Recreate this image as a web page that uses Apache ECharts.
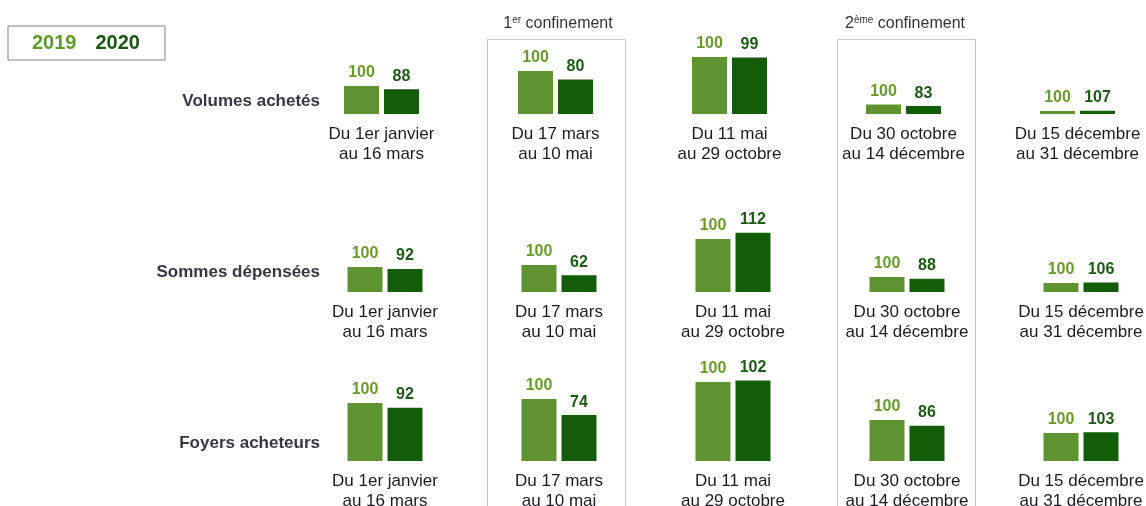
<!DOCTYPE html>
<html>
<head>
<meta charset="utf-8">
<script src="https://cdn.jsdelivr.net/npm/echarts@6/dist/echarts.min.js"></script>
<style>
  html, body { margin: 0; padding: 0; background: #fff; }
  #chart { width: 1146px; height: 506px; }
</style>
</head>
<body>
<div id="chart"></div>
<script>
// périodes (catégories)
var periodes = ['Du 1er janvier\nau 16 mars', 'Du 17 mars\nau 10 mai', 'Du 11 mai\nau 29 octobre', 'Du 30 octobre\nau 14 décembre', 'Du 15 décembre\nau 31 décembre']
var indicateurs = ['Volumes achetés', 'Sommes dépensées', 'Foyers acheteurs']

// indices 2020 (base 100 = 2019)
var indice2019 = [100, 100, 100, 100, 100]
var volumes2020 = [88, 80, 99, 83, 107]
var sommes2020 = [92, 62, 112, 88, 106]
var foyers2020 = [92, 74, 102, 86, 103]

// poids relatif de chaque période en 2019 (hauteur de la barre 2019)
var volumesPoids2019 = [28, 43, 57, 9.5, 3]
var sommesPoids2019 = [25, 27, 53, 15, 9]
var foyersPoids2019 = [58, 62, 79, 41, 28]

var indices2020 = [volumes2020, sommes2020, foyers2020]
var poids2019 = [volumesPoids2019, sommesPoids2019, foyersPoids2019]

var font = 'Liberation Sans, Arial, sans-serif'
var vert2019 = '#5f9230'
var vert2020 = '#145d08'

// mise en page
var baselines = [114, 292, 461]
var lefts = [294.5, 298, 298]
var labelY = [101, 272, 443]

var grids = []
var xAxes = []
var yAxes = []
var series = []

indicateurs.forEach(function (nom, r) {
  grids.push({ left: lefts[r], width: 870, top: baselines[r] - 100, height: 100, outerBoundsMode: 'none', containLabel: false })
  xAxes.push({
    type: 'category',
    gridIndex: r,
    data: periodes,
    axisLine: { show: false },
    axisTick: { show: false },
    splitLine: { show: false },
    axisLabel: { margin: 10, fontSize: 17, lineHeight: 20, color: '#1c1c24', fontFamily: font, interval: 0 }
  })
  yAxes.push({ type: 'value', gridIndex: r, min: 0, max: 100, show: false, splitLine: { show: false } })

  series.push({
    name: '2019',
    type: 'bar',
    xAxisIndex: r,
    yAxisIndex: r,
    barWidth: 35,
    barGap: '14.3%',
    itemStyle: { color: vert2019 },
    label: {
      show: true, position: 'top', distance: 5,
      fontSize: 16, fontWeight: 'bold', color: '#6a9a2c', fontFamily: font,
      formatter: function (p) { return indice2019[p.dataIndex] }
    },
    data: poids2019[r]
  })
  series.push({
    name: '2020',
    type: 'bar',
    xAxisIndex: r,
    yAxisIndex: r,
    barWidth: 35,
    barGap: '14.3%',
    itemStyle: { color: vert2020 },
    label: {
      show: true, position: 'top', distance: 5,
      fontSize: 16, fontWeight: 'bold', color: '#1e5a16', fontFamily: font,
      formatter: function (p) { return indices2020[r][p.dataIndex] }
    },
    data: poids2019[r].map(function (v, i) { return v * indices2020[r][i] / 100 })
  })
})

var graphics = [
  { type: 'rect', z: -1, shape: { x: 487.5, y: 39.5, width: 138, height: 500 }, style: { fill: 'none', stroke: '#c8c8c8', lineWidth: 1 } },
  { type: 'rect', z: -1, shape: { x: 837.5, y: 39.5, width: 138, height: 500 }, style: { fill: 'none', stroke: '#c8c8c8', lineWidth: 1 } },
  {
    type: 'text', x: 558, y: 24,
    style: {
      text: '{n|1}{s|er}{n| confinement}', align: 'center', verticalAlign: 'middle',
      rich: {
        n: { fontSize: 16, fontFamily: font, fill: '#333', lineHeight: 18 },
        s: { fontSize: 10, fontFamily: font, fill: '#333', verticalAlign: 'top', lineHeight: 18 }
      }
    }
  },
  {
    type: 'text', x: 905, y: 24,
    style: {
      text: '{n|2}{s|ème}{n| confinement}', align: 'center', verticalAlign: 'middle',
      rich: {
        n: { fontSize: 16, fontFamily: font, fill: '#333', lineHeight: 18 },
        s: { fontSize: 10, fontFamily: font, fill: '#333', verticalAlign: 'top', lineHeight: 18 }
      }
    }
  }
]
indicateurs.forEach(function (nom, r) {
  graphics.push({
    type: 'text', x: 320, y: labelY[r],
    style: { text: nom, align: 'right', verticalAlign: 'middle', fontSize: 17, fontWeight: 'bold', fontFamily: font, fill: '#363644' }
  })
})

var chart = echarts.init(document.getElementById('chart'), null, { renderer: 'canvas' })
chart.setOption({
  backgroundColor: '#fff',
  animation: false,
  legend: {
    left: 8,
    top: 26,
    selectedMode: false,
    icon: 'rect',
    itemWidth: 0,
    itemHeight: 0,
    itemGap: 14,
    padding: [7, 25, 7, 19],
    borderColor: '#808080',
    borderWidth: 1,
    backgroundColor: '#fff',
    data: [
      { name: '2019', textStyle: { color: '#5f9a2a', fontSize: 20, fontWeight: 'bold', fontFamily: font } },
      { name: '2020', textStyle: { color: '#1c5612', fontSize: 20, fontWeight: 'bold', fontFamily: font } }
    ]
  },
  grid: grids,
  xAxis: xAxes,
  yAxis: yAxes,
  series: series,
  graphic: graphics
})
</script>
</body>
</html>
